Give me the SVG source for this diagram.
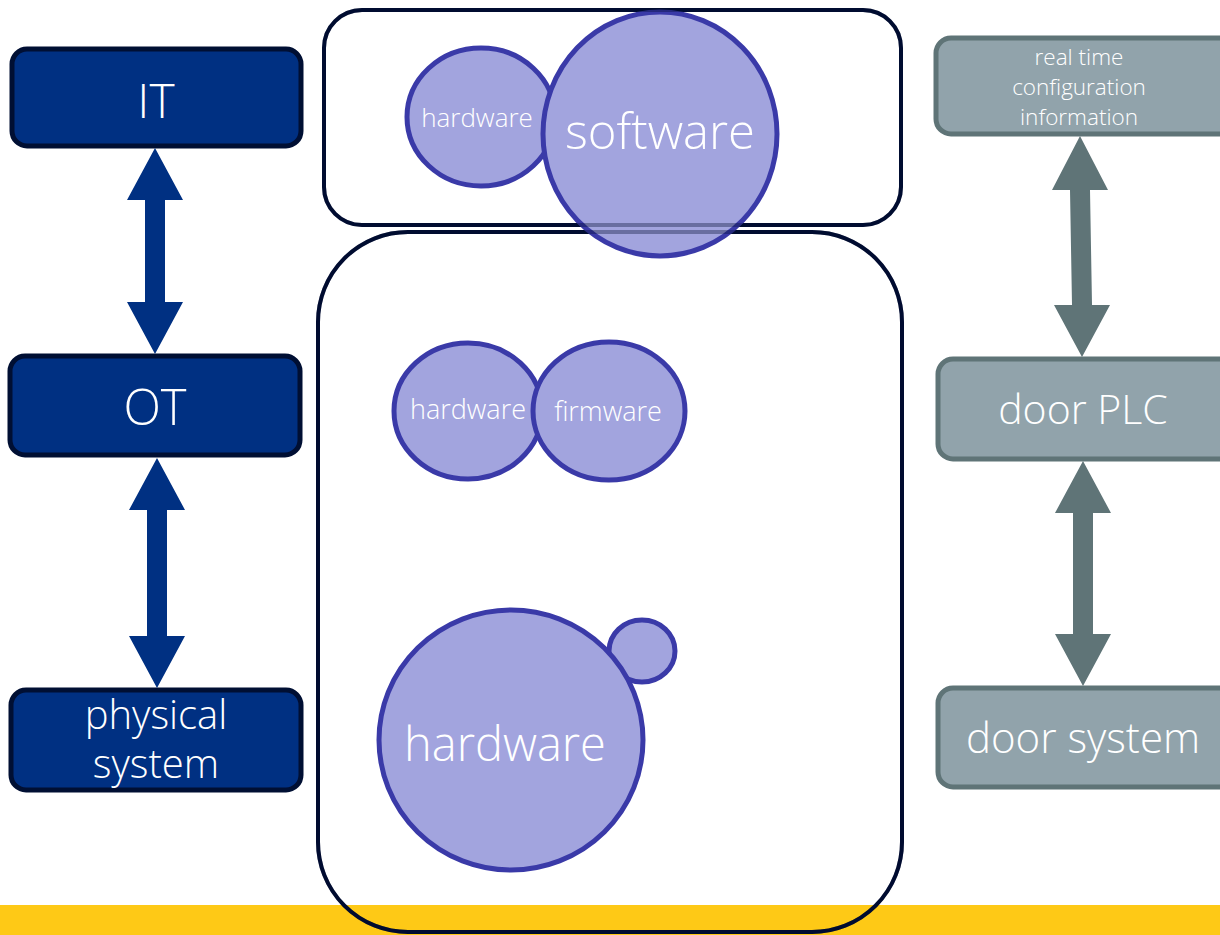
<svg xmlns="http://www.w3.org/2000/svg" width="1220" height="935" viewBox="0 0 1220 935">
<style>
.blue{fill:#003082;stroke:#000f33;stroke-width:5}
.grey{fill:#91a3ab;stroke:#5f7477;stroke-width:5}
.frame{fill:none;stroke:#000c30;stroke-width:4}
.bub{fill:#a2a4de;stroke:#3a3aa8;stroke-width:5}
.t{font-family:"Open Sans","Noto Sans",sans-serif;font-weight:300;fill:#ffffff;text-anchor:middle}
.ab{fill:#003082}
.ag{fill:#5f7477}
</style>
<rect x="0" y="905" width="1220" height="30" fill="#fec916"/>
<g id="frame-top"><rect class="frame" x="324" y="10" width="577" height="215" rx="38"/></g>
<g id="frame-bottom"><rect class="frame" x="318" y="232" width="584" height="700" rx="90"/></g>
<g id="it"><rect class="blue" x="12" y="49" width="289" height="97" rx="15"/><text class="t" x="156" y="118" font-size="48">IT</text></g>
<g id="ot"><rect class="blue" x="10" y="356" width="290" height="99" rx="15"/><text class="t" x="155" y="425" font-size="49">OT</text></g>
<g id="physical"><rect class="blue" x="11" y="690" width="290" height="100" rx="15"/><text class="t" x="156" y="729" font-size="40">physical</text><text class="t" x="156" y="778" font-size="40">system</text></g>
<g id="realtime"><rect class="grey" x="936" y="38" width="300" height="96" rx="15"/><text class="t" x="1079" y="65" font-size="22.5">real time</text><text class="t" x="1079" y="95" font-size="22.5">configuration</text><text class="t" x="1079" y="125" font-size="22.5">information</text></g>
<g id="plc"><rect class="grey" x="938" y="359" width="300" height="100" rx="15"/><text class="t" x="1083" y="424" font-size="41">door PLC</text></g>
<g id="doorsys"><rect class="grey" x="938" y="688" width="300" height="99" rx="15"/><text class="t" x="1083" y="753" font-size="42">door system</text></g>
<g id="hw-top"><ellipse class="bub" cx="481" cy="117" rx="74" ry="69"/><text class="t" x="477" y="127" font-size="26">hardware</text></g>
<g id="sw"><ellipse class="bub" cx="660" cy="134" rx="117" ry="122"/><text class="t" x="660" y="149" font-size="49">software</text></g>
<g id="frame-overlay" opacity="0.35"><rect class="frame" x="324" y="10" width="577" height="215" rx="38"/><rect class="frame" x="318" y="232" width="584" height="700" rx="90"/></g>
<g id="hw-mid"><ellipse class="bub" cx="468" cy="411" rx="74" ry="68"/><text class="t" x="468" y="419" font-size="27">hardware</text></g>
<g id="fw"><ellipse class="bub" cx="609" cy="411" rx="76" ry="69"/><text class="t" x="608" y="421" font-size="27">firmware</text></g>
<g id="small"><ellipse class="bub" cx="642" cy="651" rx="33" ry="31"/></g>
<g id="hw-big"><ellipse class="bub" cx="511" cy="740" rx="132" ry="130"/><text class="t" x="505" y="761" font-size="47">hardware</text></g>
<g id="connectors">
<polygon class="ab" points="155,148 183,200 165,200 165,302 183,302 155,354 127,302 145,302 145,200 127,200"/>
<polygon class="ab" points="157,458 185,510 167,510 167,636 185,636 157,688 129,636 147,636 147,510 129,510"/>
<polygon class="ag" points="1080,136 1108,190 1090,190 1092,305 1110,305 1082,357 1054,305 1072,305 1070,190 1052,190"/>
<polygon class="ag" points="1083,461 1111,513 1093,513 1093,634 1111,634 1083,686 1055,634 1073,634 1073,513 1055,513"/>
</g>
</svg>
